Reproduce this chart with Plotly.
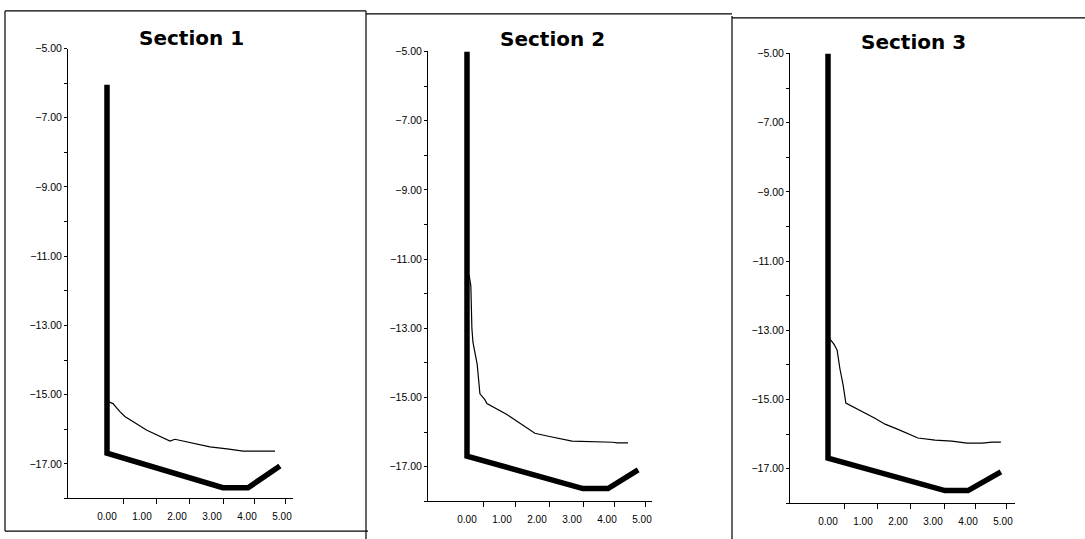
import plotly.graph_objects as go

W, H = 1085, 539

# ---------------- data ----------------
sections = ["Section 1", "Section 2", "Section 3"]

# thick line: wall + bottom profile
x1_thick = [0.0, 0.0, 3.31, 4.03, 4.94]
y1_thick = [-6.05, -16.69, -17.69, -17.69, -17.06]
x2_thick = [0.0, 0.0, 3.31, 4.03, 4.89]
y2_thick = [-5.0, -16.69, -17.63, -17.63, -17.09]
x3_thick = [0.0, 0.0, 3.34, 4.00, 4.94]
y3_thick = [-5.0, -16.69, -17.63, -17.63, -17.09]

# thin line
x1_thin = [0.03, 0.17, 0.37, 0.51, 1.14, 1.37, 1.80, 1.94, 2.46, 2.94, 3.43, 3.89, 4.80]
y1_thin = [-15.20, -15.26, -15.49, -15.63, -16.03, -16.14, -16.34, -16.29, -16.40, -16.51, -16.57, -16.63, -16.63]
x2_thin = [0.06, 0.11, 0.14, 0.17, 0.29, 0.34, 0.37, 0.51, 0.57, 1.14, 1.51, 1.94, 2.29, 3.00, 4.17, 4.29, 4.60]
y2_thin = [-11.46, -11.77, -13.00, -13.40, -14.03, -14.46, -14.89, -15.06, -15.17, -15.49, -15.74, -16.03, -16.11, -16.26, -16.29, -16.31, -16.31]
x3_thin = [0.06, 0.17, 0.26, 0.34, 0.43, 0.51, 1.34, 1.63, 2.00, 2.57, 3.06, 3.54, 3.97, 4.40, 4.69, 4.94]
y3_thin = [-13.26, -13.40, -13.57, -14.11, -14.57, -15.10, -15.54, -15.71, -15.86, -16.11, -16.17, -16.20, -16.26, -16.26, -16.23, -16.23]

# axes
y_range = [-18, -5]
y_tickvals = [-5, -7, -9, -11, -13, -15, -17]
y_ticktext = ["\u22125.00", "\u22127.00", "\u22129.00", "\u221211.00", "\u221213.00", "\u221215.00", "\u221217.00"]
x_tickvals = [0, 1, 2, 3, 4, 5]
x_ticktext = ["0.00", "1.00", "2.00", "3.00", "4.00", "5.00"]
x_marks = [0.47, 1.40, 2.35, 3.33, 4.22, 5.10]
x_ranges = [[-1.114, 5.314], [-1.114, 5.286], [-1.086, 5.343]]

# panel placement in pixels: (left, right, top, bottom)
panels_px = [(68, 293, 43, 498), (428, 652, 46, 501), (790, 1015, 48, 503)]
title_px = [(191, 32), (552, 33), (913, 36)]

thick = [(x1_thick, y1_thick), (x2_thick, y2_thick), (x3_thick, y3_thick)]
thin = [(x1_thin, y1_thin), (x2_thin, y2_thin), (x3_thin, y3_thin)]

fig = go.Figure()
xtick_font = dict(family="Liberation Sans, Arial, sans-serif", size=10, color="black")
ytick_font = dict(family="Liberation Sans, Arial, sans-serif", size=10.5, color="black")

for i in range(3):
    sfx = "" if i == 0 else str(i + 1)
    xa, ya = "x" + sfx, "y" + sfx
    fig.add_trace(go.Scatter(x=thick[i][0], y=thick[i][1], mode="lines",
                             line=dict(color="black", width=5.5), xaxis=xa, yaxis=ya,
                             showlegend=False, hoverinfo="skip"))
    fig.add_trace(go.Scatter(x=thin[i][0], y=thin[i][1], mode="lines",
                             line=dict(color="black", width=1.2), xaxis=xa, yaxis=ya,
                             showlegend=False, hoverinfo="skip"))
    l, r, t, b = panels_px[i]
    fig.layout["xaxis" + sfx] = dict(
        domain=[l / W, r / W], anchor=ya, range=x_ranges[i],
        showline=True, linecolor="black", linewidth=1, showgrid=False, zeroline=False,
        tickmode="array", tickvals=x_tickvals, ticktext=x_ticktext,
        ticks="outside", ticklen=9, tickcolor="rgba(0,0,0,0)", tickfont=xtick_font,
        minor=dict(tickmode="array", tickvals=x_marks, ticks="outside", ticklen=5,
                   tickcolor="black", tickwidth=1, showgrid=False),
        fixedrange=True,
    )
    fig.layout["yaxis" + sfx] = dict(
        domain=[1 - b / H, 1 - t / H], anchor=xa, range=y_range,
        showline=True, linecolor="black", linewidth=1, showgrid=False, zeroline=False,
        tickmode="array", tickvals=y_tickvals, ticktext=y_ticktext,
        ticks="outside", ticklen=3, tickcolor="black", tickwidth=1, tickfont=ytick_font,
        minor=dict(tickmode="linear", tick0=-18, dtick=1, ticks="outside", ticklen=3,
                   tickcolor="black", tickwidth=1, showgrid=False),
        fixedrange=True,
    )
    tx, ty = title_px[i]
    fig.add_annotation(x=tx / W, y=1 - ty / H, xref="paper", yref="paper",
                       text=sections[i], showarrow=False, xanchor="center", yanchor="middle",
                       font=dict(family="DejaVu Sans, Arial, sans-serif", size=20, color="black",
                                 weight="bold"))

# panel borders (pixel positions -> paper)
def px_line(x0, y0, x1, y1, w=1.2):
    fig.add_shape(type="line", xref="paper", yref="paper",
                  x0=x0 / W, y0=1 - y0 / H, x1=x1 / W, y1=1 - y1 / H,
                  line=dict(color="black", width=w))

px_line(5, 5, 366, 5)        # panel 1 top
px_line(5, 5, 5, 531)        # panel 1 left
px_line(5, 531, 368, 531)    # panel 1 bottom
px_line(366, 5, 366, 539)    # divider 1|2
px_line(366, 8, 732, 8)      # panel 2 top
px_line(732, 10, 732, 539)   # divider 2|3
px_line(732, 12, 1085, 12)   # panel 3 top

fig.update_layout(width=W, height=H, margin=dict(l=0, r=0, t=0, b=0),
                  paper_bgcolor="white", plot_bgcolor="white", showlegend=False)

fig.write_html("out.html", config={"displayModeBar": False},
               post_script="document.body.style.margin='0';document.body.style.overflow='hidden';")
